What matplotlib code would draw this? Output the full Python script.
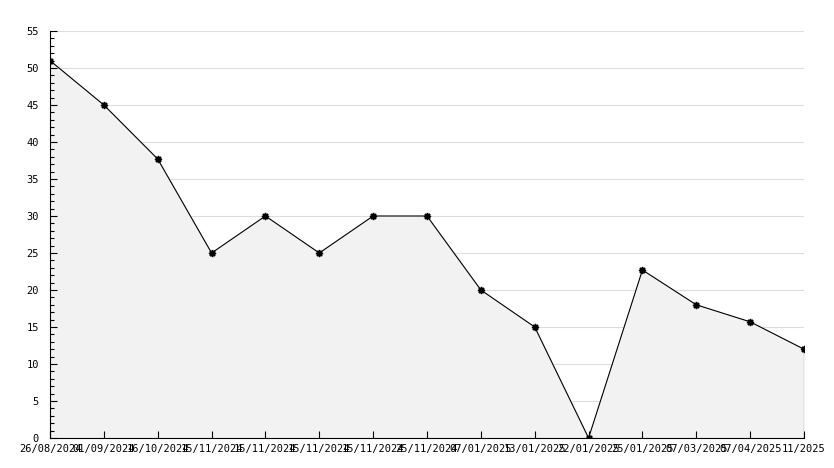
import numpy as np
import matplotlib.pyplot as plt
from matplotlib.ticker import MultipleLocator

dates = ["26/08/2024", "01/09/2024", "16/10/2024", "15/11/2024", "15/11/2024",
         "15/11/2024", "15/11/2024", "25/11/2024", "07/01/2025", "13/01/2025",
         "22/01/2025", "25/01/2025", "07/03/2025", "07/04/2025", "11/2025"]
values = [51, 45, 37.7, 25, 30, 25, 30, 30, 20, 15, 0, 22.7, 18, 15.7, 12]
grid_levels = [5, 10, 15, 20, 25, 30, 35, 40, 45, 50, 55]

plt.rcParams['font.family'] = ['DejaVu Sans Mono']
fig = plt.figure(figsize=(8.34, 4.68), dpi=100)
ax = fig.add_axes([50 / 834, 30 / 468, 754 / 834, 407 / 468])

x = np.arange(len(values))
# horizontal grid behind the filled area
for g in grid_levels:
    ax.axhline(g, color="#dddddd", lw=0.8, zorder=0)
ax.fill_between(x, values, 0, color="#f2f2f2", zorder=1)
ax.plot(x, values, color="black", lw=0.8, zorder=3)
ax.plot(x, values, ls="none", marker=(8, 1, 0), ms=5, color="black", zorder=4)
ax.plot([x[-1], x[-1]], [0, values[-1]], color="black", lw=0.8, zorder=3)

ax.set_xlim(0, len(values) - 1)
ax.set_ylim(0, 55)
ax.set_xticks(x)
ax.set_xticklabels(dates)
ax.yaxis.set_major_locator(MultipleLocator(5))
ax.yaxis.set_minor_locator(MultipleLocator(1))

for s in ["top", "right"]:
    ax.spines[s].set_visible(False)
ax.spines["left"].set_linewidth(0.8)
ax.spines["bottom"].set_linewidth(0.8)
ax.tick_params(axis="both", which="major", labelsize=7.5, direction="in",
               length=5, width=0.8, pad=4)
ax.tick_params(axis="y", which="major", pad=8)
ax.tick_params(axis="y", which="minor", direction="in", length=3, width=0.8)

fig.savefig("out.png", dpi=100)
